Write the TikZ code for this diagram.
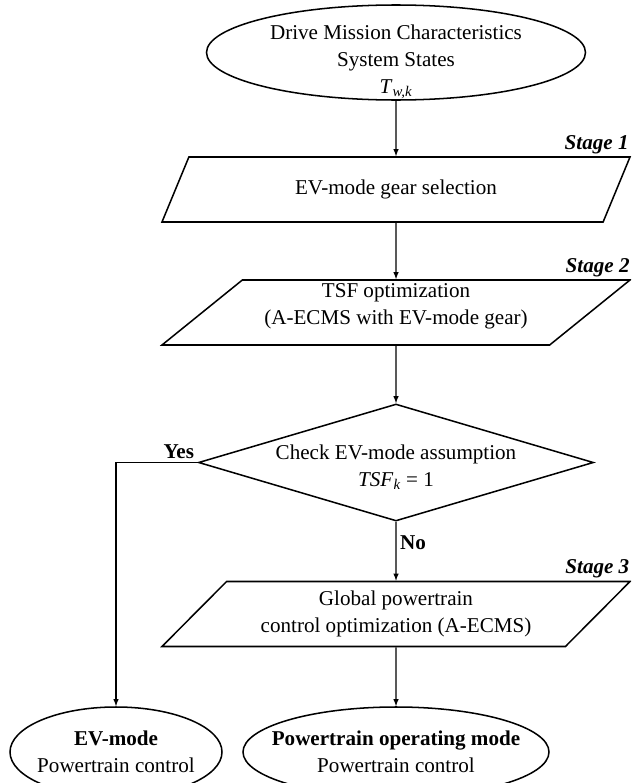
\documentclass[tikz,border=0pt]{standalone}
\usepackage{fontspec}
\setmainfont{Liberation Serif}
\usetikzlibrary{arrows,shapes.geometric}

\tikzset{
  term/.style={ellipse, draw, line width=1.3pt, inner xsep=-1cm, inner ysep=-0.5cm, align=center},
  iobox/.style={trapezium, trapezium left angle=35.5, trapezium right angle=144.5,
    trapezium stretches body, draw, line width=1.3pt, minimum width=14.04cm,
    minimum height=1.95cm, inner xsep=-0.5cm, inner ysep=0pt, align=center},
  decision/.style={diamond, aspect=3, draw, line width=1.3pt, minimum width=11.85cm,
    minimum height=3.51cm, inner xsep=-3.3cm, inner ysep=-0.6cm, align=center},
  stagelbl/.style={font=\fontsize{18}{23}\selectfont\bfseries\itshape, inner sep=2pt},
  answer/.style={font=\fontsize{18}{23}\selectfont\bfseries, inner sep=3pt},
  flow/.style={-latex, line width=1.1pt}
}

\begin{document}
\begin{tikzpicture}[x=0.03cm,y=-0.03cm,font=\fontsize{18}{23}\selectfont]
\clip (0,0) rectangle (631,783);

\node[term, minimum width=11.37cm, minimum height=2.85cm] (src) at (396,52.5)
  {\rule{0pt}{28pt}Drive Mission Characteristics\\System States\\\textit{T}\textsubscript{\textit{w,k}}};

\node[iobox] (p1) at (396,189.5) {EV-mode gear selection};
\node[iobox] (p2) at (396,312.5) {TSF optimization\\(A-ECMS with EV-mode gear)\rule[-14pt]{0pt}{14pt}};
\node[decision] (chk) at (396,462.5) {\rule{0pt}{21pt}Check EV-mode assumption\\\textit{TSF}\textsubscript{\textit{k}} = 1};
\node[iobox] (p3) at (396,614) {Global powertrain\\control optimization (A-ECMS)};

\node[term, minimum width=6.36cm, minimum height=2.7cm] (ev) at (116,752)
  {\textbf{EV-mode}\\Powertrain control};
\node[term, minimum width=9.18cm, minimum height=2.7cm] (pm) at (396,752)
  {\textbf{Powertrain operating mode}\\Powertrain control};

% stage labels
\foreach \p/\s in {p1/1,p2/2,p3/3}
  \node[stagelbl, anchor=south east] (stage\s) at (\p.top right corner) {Stage \s};

\draw[flow] (src.south) -- (p1.north);
\draw[flow] (p1.south) -- (p2.north);
\draw[flow] (p2.south) -- (chk.north);
\draw[flow] (chk.south) -- node[answer, pos=0.35, right] (no) {No} (p3.north);
\draw[flow] (chk.west) -| (ev.north);
\node[answer, anchor=south east] (yes) at (chk.west) {Yes};
\draw[flow] (p3.south) -- (pm.north);
\end{tikzpicture}
\end{document}
